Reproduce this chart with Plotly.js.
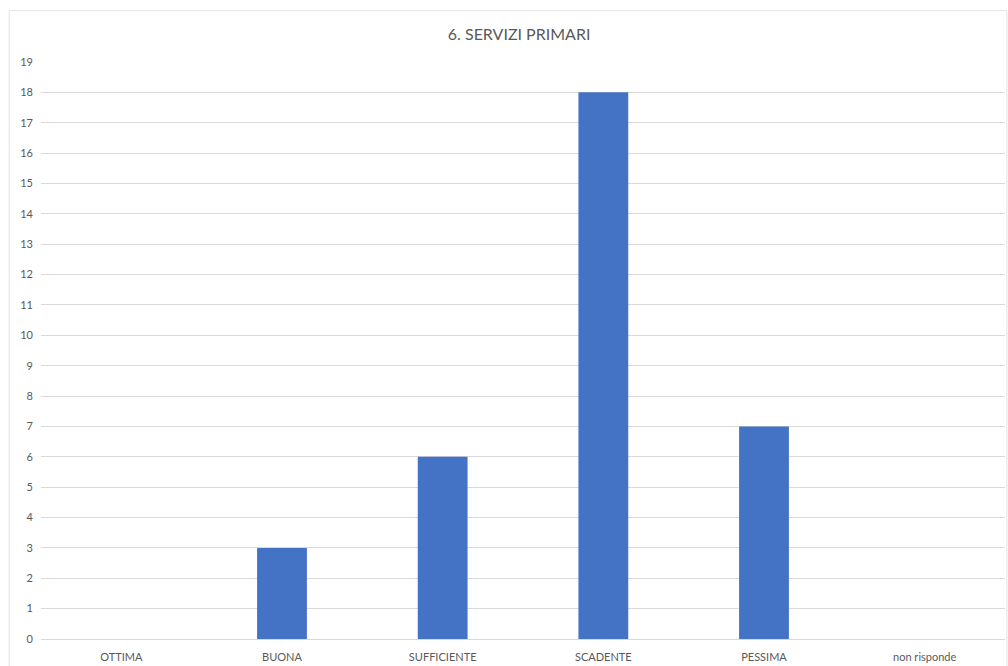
<!DOCTYPE html>
<html>
<head>
<meta charset="utf-8">
<script src="https://cdn.plot.ly/plotly-3.0.1.min.js"></script>
<style>html,body{margin:0;padding:0;background:#fff;}#chart{width:1008px;height:666px;}</style>
</head>
<body>
<div id="chart"></div>
<script>
const categories = ["OTTIMA", "BUONA", "SUFFICIENTE", "SCADENTE", "PESSIMA", "non risponde"];
const values = [0, 3, 6, 18, 7, 0];
const yTicks = [0,1,2,3,4,5,6,7,8,9,10,11,12,13,14,15,16,17,18,19];

const trace = {
  type: "bar",
  x: categories,
  y: values,
  marker: {color: "#4472C4"},
  hoverinfo: "x+y"
};

const layout = {
  width: 1008,
  height: 666,
  margin: {l: 41, r: 3, t: 62, b: 27},
  paper_bgcolor: "#ffffff",
  plot_bgcolor: "#ffffff",
  font: {family: "Lato, 'Open Sans', sans-serif", color: "#595959", size: 11},
  title: {
    text: "6. SERVIZI PRIMARI",
    font: {family: "Lato, 'Open Sans', sans-serif", size: 16, color: "#595959"},
    x: 0.515, xanchor: "center", y: 0.948, yanchor: "middle"
  },
  bargap: 0.69,
  showlegend: false,
  xaxis: {
    type: "category",
    showgrid: false,
    showline: true,
    linecolor: "#d9d9d9",
    ticks: "",
    ticklabelstandoff: 8,
    tickfont: {size: 11, color: "#595959"}
  },
  yaxis: {
    range: [0, 19],
    tickvals: yTicks,
    ticktext: yTicks.map(String),
    showgrid: true,
    gridcolor: "#d9d9d9",
    zeroline: true,
    zerolinecolor: "#d9d9d9",
    showline: false,
    ticks: "",
    ticklabelstandoff: 7,
    tickfont: {size: 11, color: "#595959"}
  },
  shapes: [{
    type: "rect", xref: "paper", yref: "paper",
    x0: -0.033, x1: 1.002, y0: -0.06, y1: 1.089,
    line: {color: "#e3e3e3", width: 1}, fillcolor: "rgba(0,0,0,0)", layer: "below"
  }]
};

Plotly.newPlot("chart", [trace], layout, {displayModeBar: false, staticPlot: true});
</script>
</body>
</html>
